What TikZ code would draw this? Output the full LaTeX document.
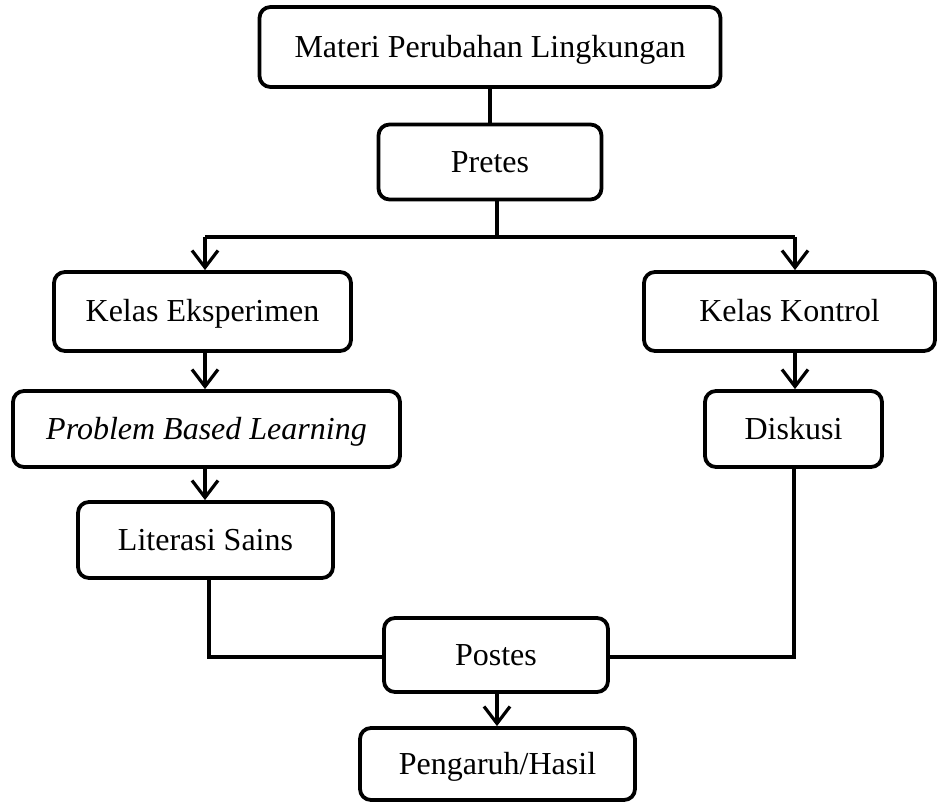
\documentclass[tikz,border=0pt]{standalone}
\usepackage{fontspec}
\setmainfont{Liberation Serif}
\usetikzlibrary{arrows.meta}
\begin{document}
\begin{tikzpicture}[x=1pt,y=1pt,
  box/.style={draw=black, line width=3.8pt, rounded corners=11pt, inner sep=0pt,
    font=\fontsize{32pt}{38pt}\selectfont, text=black, fill=white,
    text height=26pt, text depth=5pt},
  conn/.style={draw=black, line width=3.2pt},
  arr/.style={conn, -{Straight Barb[length=17pt,width=26pt,line width=3.2pt]}}]
\useasboundingbox[fill=white] (0,0) rectangle (937,-802);
% boxes
\node[box, minimum width=461pt, minimum height=80pt] (materi) at (490,-47) {Materi Perubahan Lingkungan};
\node[box, minimum width=223pt, minimum height=75pt] (pretes) at (490,-162) {Pretes};
\node[box, minimum width=297pt, minimum height=79pt] (ke) at (202.5,-311.5) {Kelas Eksperimen};
\node[box, minimum width=291pt, minimum height=79pt] (kk) at (789.5,-311.5) {Kelas Kontrol};
\node[box, minimum width=387pt, minimum height=76pt] (pbl) at (206.5,-429) {\itshape Problem Based Learning};
\node[box, minimum width=177pt, minimum height=76pt] (disk) at (793.5,-429) {Diskusi};
\node[box, minimum width=255pt, minimum height=76pt] (lit) at (205.5,-540) {Literasi Sains};
\node[box, minimum width=224pt, minimum height=74pt] (postes) at (496,-655) {Postes};
\node[box, minimum width=275pt, minimum height=72pt] (hasil) at (497.5,-764) {Pengaruh/Hasil};
% coordinates
\coordinate (split) at (497,-237);
\coordinate (lsplit) at (205,-237);
\coordinate (rsplit) at (795,-237);
\coordinate (lbot) at (209,-657);
\coordinate (rbot) at (794,-657);
% connectors
\draw[conn] (materi.south) -- (materi.south |- pretes.north);
\draw[conn] (pretes.south -| split) -- (split);
\draw[conn] (lsplit) -- (rsplit);
\draw[arr] (lsplit) -- (lsplit |- ke.north);
\draw[arr] (rsplit) -- (rsplit |- kk.north);
\draw[arr] (ke.south -| lsplit) -- (lsplit |- pbl.north);
\draw[arr] (pbl.south -| lsplit) -- (lsplit |- lit.north);
\draw[arr] (kk.south -| rsplit) -- (rsplit |- disk.north);
\draw[conn] (lit.south -| lbot) -- (lbot) -- (lbot -| postes.west);
\draw[conn] (disk.south -| rbot) -- (rbot) -- (rbot -| postes.east);
\draw[arr] (postes.south -| split) -- (split |- hasil.north);
\end{tikzpicture}
\end{document}
